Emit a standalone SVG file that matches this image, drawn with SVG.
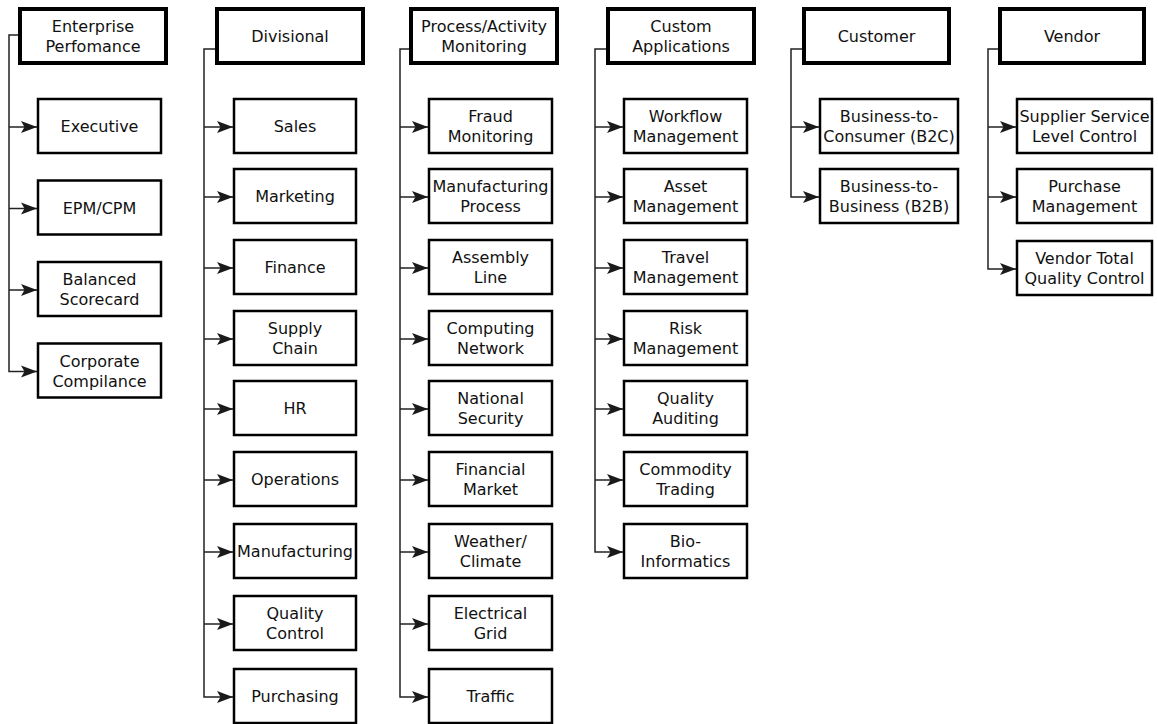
<svg xmlns="http://www.w3.org/2000/svg" width="1158" height="724" viewBox="0 0 1158 724">
<style>
.hdr{fill:#fff;stroke:#000;stroke-width:4}
.box{fill:#fff;stroke:#000;stroke-width:2.5}
.t{font-family:"DejaVu Sans","Liberation Sans",sans-serif;font-size:16px;fill:#111;text-anchor:middle}
.c{fill:none;stroke:#222;stroke-width:1.5}
</style>
<defs>
<marker id="ah" markerUnits="userSpaceOnUse" markerWidth="18" markerHeight="14" refX="16" refY="6" orient="auto" overflow="visible">
<path d="M0,0 L16,6 L0,12 L3.5,6 z" fill="#1a1a1a"/>
</marker>
</defs>
<rect width="1158" height="724" fill="#fff"/>
<g id="connectors">
<path class="c" marker-end="url(#ah)" d="M18,35 H9 V371.5 H37"/>
<path class="c" marker-end="url(#ah)" d="M9,127 H37"/>
<path class="c" marker-end="url(#ah)" d="M9,208.5 H37"/>
<path class="c" marker-end="url(#ah)" d="M9,290 H37"/>

<path class="c" marker-end="url(#ah)" d="M215,49 H204 V697 H233"/>
<path class="c" marker-end="url(#ah)" d="M204,127 H233"/>
<path class="c" marker-end="url(#ah)" d="M204,197 H233"/>
<path class="c" marker-end="url(#ah)" d="M204,268 H233"/>
<path class="c" marker-end="url(#ah)" d="M204,339 H233"/>
<path class="c" marker-end="url(#ah)" d="M204,409 H233"/>
<path class="c" marker-end="url(#ah)" d="M204,480 H233"/>
<path class="c" marker-end="url(#ah)" d="M204,552 H233"/>
<path class="c" marker-end="url(#ah)" d="M204,624 H233"/>

<path class="c" marker-end="url(#ah)" d="M409,49 H400 V697 H428"/>
<path class="c" marker-end="url(#ah)" d="M400,127 H428"/>
<path class="c" marker-end="url(#ah)" d="M400,197 H428"/>
<path class="c" marker-end="url(#ah)" d="M400,268 H428"/>
<path class="c" marker-end="url(#ah)" d="M400,339 H428"/>
<path class="c" marker-end="url(#ah)" d="M400,409 H428"/>
<path class="c" marker-end="url(#ah)" d="M400,480 H428"/>
<path class="c" marker-end="url(#ah)" d="M400,552 H428"/>
<path class="c" marker-end="url(#ah)" d="M400,624 H428"/>

<path class="c" marker-end="url(#ah)" d="M606,49 H595 V552 H623"/>
<path class="c" marker-end="url(#ah)" d="M595,127 H623"/>
<path class="c" marker-end="url(#ah)" d="M595,197 H623"/>
<path class="c" marker-end="url(#ah)" d="M595,268 H623"/>
<path class="c" marker-end="url(#ah)" d="M595,339 H623"/>
<path class="c" marker-end="url(#ah)" d="M595,409 H623"/>
<path class="c" marker-end="url(#ah)" d="M595,480 H623"/>

<path class="c" marker-end="url(#ah)" d="M802,49 H791 V197 H819"/>
<path class="c" marker-end="url(#ah)" d="M791,127 H819"/>

<path class="c" marker-end="url(#ah)" d="M998,49 H988 V269 H1016"/>
<path class="c" marker-end="url(#ah)" d="M988,127 H1016"/>
<path class="c" marker-end="url(#ah)" d="M988,197 H1016"/>
</g>

<g id="enterprise">
<rect class="hdr" x="20" y="9" width="146" height="54"/>
<text class="t" x="93" y="32">Enterprise</text><text class="t" x="93" y="52">Perfomance</text>
</g>
<g id="executive"><rect class="box" x="38" y="99" width="123" height="54"/><text class="t" x="99.5" y="132">Executive</text></g>
<g id="epm"><rect class="box" x="38" y="180.5" width="123" height="54"/><text class="t" x="99.5" y="213.5">EPM/CPM</text></g>
<g id="balanced"><rect class="box" x="38" y="262" width="123" height="54"/><text class="t" x="99.5" y="285">Balanced</text><text class="t" x="99.5" y="305">Scorecard</text></g>
<g id="corporate"><rect class="box" x="38" y="343.5" width="123" height="54"/><text class="t" x="99.5" y="366.5">Corporate</text><text class="t" x="99.5" y="386.5">Compilance</text></g>

<g id="divisional">
<rect class="hdr" x="217" y="9" width="146" height="54"/>
<text class="t" x="290" y="42">Divisional</text>
</g>
<g id="sales"><rect class="box" x="234" y="99" width="122" height="54"/><text class="t" x="295" y="132">Sales</text></g>
<g id="marketing"><rect class="box" x="234" y="169" width="122" height="54"/><text class="t" x="295" y="202">Marketing</text></g>
<g id="finance"><rect class="box" x="234" y="240" width="122" height="54"/><text class="t" x="295" y="273">Finance</text></g>
<g id="supply"><rect class="box" x="234" y="311" width="122" height="54"/><text class="t" x="295" y="334">Supply</text><text class="t" x="295" y="354">Chain</text></g>
<g id="hr"><rect class="box" x="234" y="381" width="122" height="54"/><text class="t" x="295" y="414">HR</text></g>
<g id="operations"><rect class="box" x="234" y="452" width="122" height="54"/><text class="t" x="295" y="485">Operations</text></g>
<g id="manufacturing"><rect class="box" x="234" y="524" width="122" height="54"/><text class="t" x="295" y="557">Manufacturing</text></g>
<g id="quality"><rect class="box" x="234" y="596" width="122" height="54"/><text class="t" x="295" y="619">Quality</text><text class="t" x="295" y="639">Control</text></g>
<g id="purchasing"><rect class="box" x="234" y="669" width="122" height="54"/><text class="t" x="295" y="702">Purchasing</text></g>

<g id="process">
<rect class="hdr" x="411" y="9" width="146" height="54"/>
<text class="t" x="484" y="32">Process/Activity</text><text class="t" x="484" y="52">Monitoring</text>
</g>
<g id="fraud"><rect class="box" x="429" y="99" width="123" height="54"/><text class="t" x="490.5" y="122">Fraud</text><text class="t" x="490.5" y="142">Monitoring</text></g>
<g id="mfgprocess"><rect class="box" x="429" y="169" width="123" height="54"/><text class="t" x="490.5" y="192">Manufacturing</text><text class="t" x="490.5" y="212">Process</text></g>
<g id="assembly"><rect class="box" x="429" y="240" width="123" height="54"/><text class="t" x="490.5" y="263">Assembly</text><text class="t" x="490.5" y="283">Line</text></g>
<g id="computing"><rect class="box" x="429" y="311" width="123" height="54"/><text class="t" x="490.5" y="334">Computing</text><text class="t" x="490.5" y="354">Network</text></g>
<g id="national"><rect class="box" x="429" y="381" width="123" height="54"/><text class="t" x="490.5" y="404">National</text><text class="t" x="490.5" y="424">Security</text></g>
<g id="financial"><rect class="box" x="429" y="452" width="123" height="54"/><text class="t" x="490.5" y="475">Financial</text><text class="t" x="490.5" y="495">Market</text></g>
<g id="weather"><rect class="box" x="429" y="524" width="123" height="54"/><text class="t" x="490.5" y="547">Weather/</text><text class="t" x="490.5" y="567">Climate</text></g>
<g id="electrical"><rect class="box" x="429" y="596" width="123" height="54"/><text class="t" x="490.5" y="619">Electrical</text><text class="t" x="490.5" y="639">Grid</text></g>
<g id="traffic"><rect class="box" x="429" y="669" width="123" height="54"/><text class="t" x="490.5" y="702">Traffic</text></g>

<g id="custom">
<rect class="hdr" x="608" y="9" width="146" height="54"/>
<text class="t" x="681" y="32">Custom</text><text class="t" x="681" y="52">Applications</text>
</g>
<g id="workflow"><rect class="box" x="624" y="99" width="123" height="54"/><text class="t" x="685.5" y="122">Workflow</text><text class="t" x="685.5" y="142">Management</text></g>
<g id="asset"><rect class="box" x="624" y="169" width="123" height="54"/><text class="t" x="685.5" y="192">Asset</text><text class="t" x="685.5" y="212">Management</text></g>
<g id="travel"><rect class="box" x="624" y="240" width="123" height="54"/><text class="t" x="685.5" y="263">Travel</text><text class="t" x="685.5" y="283">Management</text></g>
<g id="risk"><rect class="box" x="624" y="311" width="123" height="54"/><text class="t" x="685.5" y="334">Risk</text><text class="t" x="685.5" y="354">Management</text></g>
<g id="auditing"><rect class="box" x="624" y="381" width="123" height="54"/><text class="t" x="685.5" y="404">Quality</text><text class="t" x="685.5" y="424">Auditing</text></g>
<g id="commodity"><rect class="box" x="624" y="452" width="123" height="54"/><text class="t" x="685.5" y="475">Commodity</text><text class="t" x="685.5" y="495">Trading</text></g>
<g id="bio"><rect class="box" x="624" y="524" width="123" height="54"/><text class="t" x="685.5" y="547">Bio-</text><text class="t" x="685.5" y="567">Informatics</text></g>

<g id="customer">
<rect class="hdr" x="804" y="9" width="145" height="54"/>
<text class="t" x="876.5" y="42">Customer</text>
</g>
<g id="b2c"><rect class="box" x="820" y="99" width="138" height="54"/><text class="t" x="889" y="122">Business-to-</text><text class="t" x="889" y="142">Consumer (B2C)</text></g>
<g id="b2b"><rect class="box" x="820" y="169" width="138" height="54"/><text class="t" x="889" y="192">Business-to-</text><text class="t" x="889" y="212">Business (B2B)</text></g>

<g id="vendor">
<rect class="hdr" x="1000" y="9" width="144" height="54"/>
<text class="t" x="1072" y="42">Vendor</text>
</g>
<g id="supplier"><rect class="box" x="1017" y="99" width="135" height="54"/><text class="t" x="1084.5" y="122">Supplier Service</text><text class="t" x="1084.5" y="142">Level Control</text></g>
<g id="purchase"><rect class="box" x="1017" y="169" width="135" height="54"/><text class="t" x="1084.5" y="192">Purchase</text><text class="t" x="1084.5" y="212">Management</text></g>
<g id="vtqc"><rect class="box" x="1017" y="241" width="135" height="54"/><text class="t" x="1084.5" y="264">Vendor Total</text><text class="t" x="1084.5" y="284">Quality Control</text></g>
</svg>
